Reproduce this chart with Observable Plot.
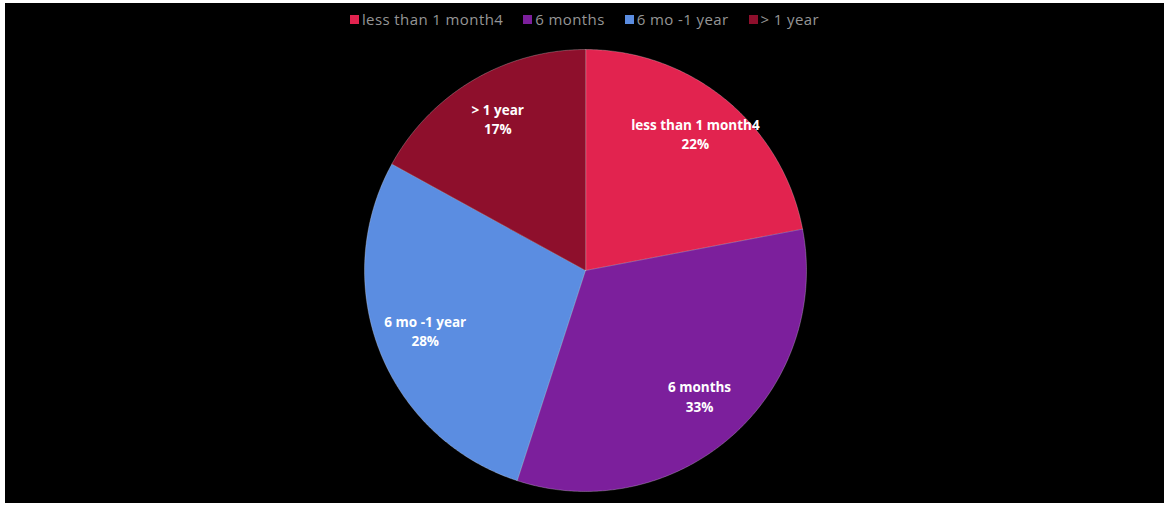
<!DOCTYPE html>
<html><head><meta charset="utf-8">
<script src="https://cdn.jsdelivr.net/npm/d3@7"></script>
<script src="https://cdn.jsdelivr.net/npm/@observablehq/plot@0.6"></script>
<style>
html,body{margin:0;padding:0;background:#fff;width:1165px;height:506px;overflow:hidden}
#wrap{position:absolute;left:5px;top:3px;width:1159px;height:500px;background:#000;}
#legend{height:32px;display:flex;justify-content:center;align-items:center;font-family:"Open Sans",sans-serif;font-size:15px;letter-spacing:0.4px;color:#959595;}
.item{display:flex;align-items:center;margin:0 10px}
.sw{width:9px;height:9px;margin-right:3px}
</style></head><body>
<div id="wrap"><div id="legend"></div><div id="chart"></div></div>
<script>
// ---- data ----
const categories = ["less than 1 month4", "6 months", "6 mo -1 year", "> 1 year"];
const shares = [22, 33, 28, 17];
const palette = ["#E2234F", "#7C1F9C", "#5B8DE1", "#8E0F2C"];

// ---- layout ----
const W = 1159, H = 468;
const cx = 580, cy = 235, R = 221, labelR = 0.78 * R;

const rows = categories.map((c, i) => ({category: c, share: shares[i]}));
const arcs = d3.pie().sort(null).value(d => d.share)(rows);

const pt = (a, r) => [cx + r * Math.sin(a), cy - r * Math.cos(a)];
const wedges = arcs.map(a => {
  const ring = [[cx, cy]];
  const n = Math.max(2, Math.ceil((a.endAngle - a.startAngle) / (Math.PI / 360)));
  for (let k = 0; k <= n; k++) ring.push(pt(a.startAngle + (a.endAngle - a.startAngle) * k / n, R));
  ring.push([cx, cy]);
  return {type: "Feature", properties: a.data, geometry: {type: "Polygon", coordinates: [ring]}};
});
const labels = arcs.map(a => {
  const [x, y] = pt((a.startAngle + a.endAngle) / 2, labelR);
  return {x, y: y - 4, text: `${a.data.category}\n${a.data.share}%`};
});
const frame = {type: "Polygon", coordinates: [[[0, 0], [W, 0], [W, H], [0, H], [0, 0]]]};

const chart = Plot.plot({
  width: W, height: H, margin: 0,
  projection: {type: "identity", domain: frame},
  style: {background: "black", fontFamily: "'Open Sans', sans-serif"},
  color: {domain: categories, range: palette},
  marks: [
    Plot.geo(wedges, {fill: d => d.properties.category, stroke: "#ffffff", strokeOpacity: 0.25, strokeWidth: 1}),
    Plot.text(labels, {x: "x", y: "y", text: "text", fill: "#ffffff", fontWeight: "bold", fontSize: 13.5, lineHeight: 1.42})
  ]
});
document.getElementById("chart").appendChild(chart);

const lg = document.getElementById("legend");
categories.forEach((c, i) => {
  const it = document.createElement("div"); it.className = "item";
  const sw = document.createElement("div"); sw.className = "sw"; sw.style.background = palette[i];
  const t = document.createElement("span"); t.textContent = c;
  it.appendChild(sw); it.appendChild(t); lg.appendChild(it);
});
</script>
</body></html>
